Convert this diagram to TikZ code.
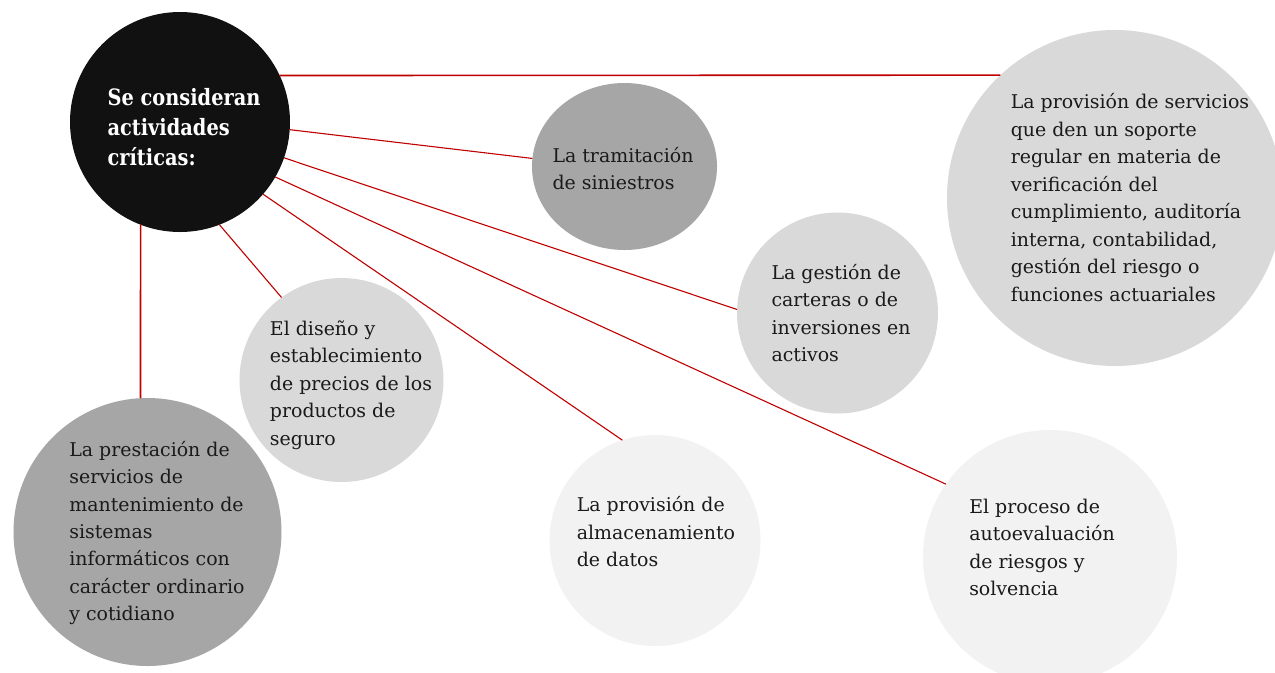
\documentclass[tikz,border=0pt]{standalone}
\usepackage{fontspec}
\setmainfont{DejaVu Serif}[BoldFeatures={FakeStretch=0.86}]
\usetikzlibrary{shapes.geometric}
\definecolor{critred}{HTML}{C00000}
\definecolor{blk}{HTML}{111111}
\definecolor{gdark}{HTML}{A6A6A6}
\definecolor{gmid}{HTML}{D9D9D9}
\definecolor{glight}{HTML}{F2F2F2}
\definecolor{txt}{HTML}{1A1A1A}
\newdimen\pxu \pxu=0.75pt
\tikzset{
  bubble/.style={circle, draw=none, inner sep=0pt, outer sep=0pt},
  linkthick/.style={draw=critred, line width=1.6\pxu},
  linkthin/.style={draw=critred, line width=1.1\pxu},
  bodytext/.style={align=left, inner sep=0pt, text=txt,
    font=\fontsize{14.2pt}{20.6pt}\selectfont},
  headtext/.style={align=left, inner sep=0pt, text=white,
    font=\fontsize{16.9pt}{22.5pt}\selectfont\bfseries},
}
\begin{document}
\begin{tikzpicture}[x=0.75pt, y=-0.75pt]
\clip (0,0) rectangle (1275,672);
\fill[white] (0,0) rectangle (1275,672);
% circles
\node[bubble, fill=blk, minimum size=220\pxu] (black) at (180,122) {};
\node[bubble, fill=gmid, minimum size=336\pxu] (prov) at (1115,198) {};
\node[ellipse, draw=none, inner sep=0pt, outer sep=0pt, fill=gdark, minimum width=185\pxu, minimum height=167\pxu] (tram) at (624.5,166.5) {};
\node[bubble, fill=gmid, minimum size=201\pxu] (gest) at (837.5,313) {};
\node[bubble, fill=gmid, minimum size=204\pxu] (dis) at (341.5,380) {};
\node[bubble, fill=gdark, minimum size=268\pxu] (presta) at (147.5,532) {};
\node[bubble, fill=glight, minimum size=211\pxu] (alm) at (655,540.5) {};
\node[bubble, fill=glight, minimum size=254\pxu] (auto) at (1050,557) {};
% connectors
\draw[linkthick] (black.25) -- (prov.133.2);
\draw[linkthin] (black.-4) -- (tram.175);
\draw[linkthin] (black.-19.4) -- (gest.178.3);
\draw[linkthin] (black.-30.5) -- (auto.145.6);
\draw[linkthin] (black.-41.3) -- (alm.108.7);
\draw[linkthin] (black.-69) -- (dis.126.2);
\draw[linkthick] (black.-111) -- (presta.93);
% texts
\node[headtext] (tblack) at (184,127) {Se consideran\\actividades\\críticas:};
\node[bodytext] (tprov) at (1130,197.5) {La provisión de servicios\\que den un soporte\\regular en materia de\\verificación del\\cumplimiento, auditoría\\interna, contabilidad,\\gestión del riesgo o\\funciones actuariales};
\node[bodytext] (ttram) at (623,168.5) {La tramitación\\de siniestros};
\node[bodytext] (tgest) at (841,313) {La gestión de\\carteras o de\\inversiones en\\activos};
\node[bodytext] (tdis) at (351,385) {El diseño y\\establecimiento\\de precios de los\\productos de\\seguro};
\node[bodytext] (tpresta) at (157,533) {La prestación de\\servicios de\\mantenimiento de\\sistemas\\informáticos con\\carácter ordinario\\y cotidiano};
\node[bodytext] (talm) at (656,532) {La provisión de\\almacenamiento\\de datos};
\node[bodytext] (tauto) at (1042,547.5) {El proceso de\\autoevaluación\\de riesgos y\\solvencia};
\end{tikzpicture}
\end{document}
